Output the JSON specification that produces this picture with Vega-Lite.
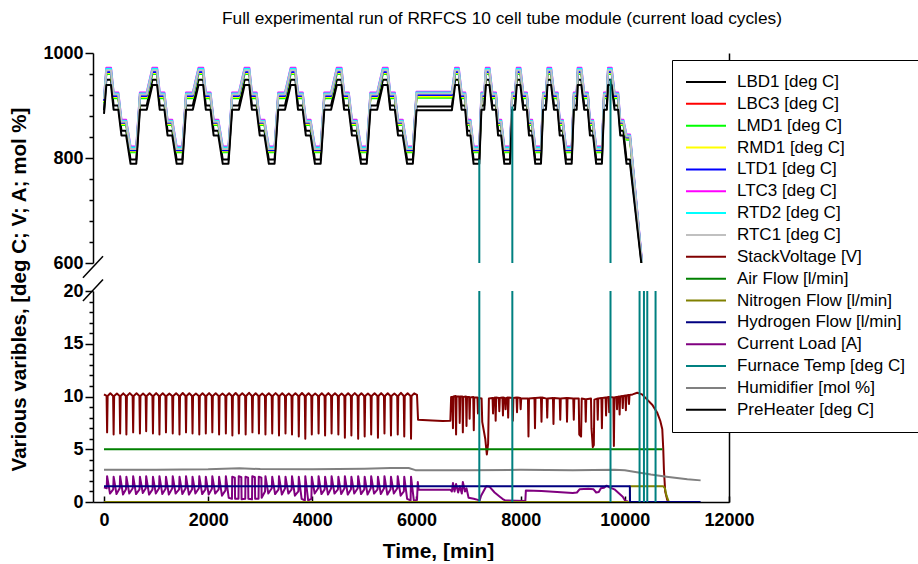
{
"$schema":"https://vega.github.io/schema/vega-lite/v6.json",
"padding":{"left":8,"top":10,"right":0,"bottom":0},
"bounds":"flush",
"spacing":28,
"title":{"text":"Full experimental run of RRFCS 10 cell tube module (current load cycles)","anchor":"start","frame":"group","dx":129,"offset":16.5,"fontSize":17.3,"fontWeight":"normal","font":"Liberation Sans","color":"black"},
"datasets":{
"names":[{"k":"LBD1","name":"LBD1 [deg C]"},{"k":"LBC3","name":"LBC3 [deg C]"},{"k":"LMD1","name":"LMD1 [deg C]"},{"k":"RMD1","name":"RMD1 [deg C]"},{"k":"LTD1","name":"LTD1 [deg C]"},{"k":"LTC3","name":"LTC3 [deg C]"},{"k":"RTD2","name":"RTD2 [deg C]"},{"k":"RTC1","name":"RTC1 [deg C]"},{"k":"SV","name":"StackVoltage [V]"},{"k":"AF","name":"Air Flow [l/min]"},{"k":"NF","name":"Nitrogen Flow [l/min]"},{"k":"HF","name":"Hydrogen Flow [l/min]"},{"k":"CL","name":"Current Load [A]"},{"k":"FT","name":"Furnace Temp [deg C]"},{"k":"HU","name":"Humidifier [mol %]"},{"k":"PH","name":"PreHeater [deg C]"}],
"d":[
{"t":0,"LBD1":891,"LBC3":908,"LMD1":905,"RMD1":907,"LTD1":909,"LTC3":916,"RTD2":914,"RTC1":912,"PH":884},
{"t":45,"LBD1":949,"LBC3":963,"LMD1":960,"RMD1":962,"LTD1":964,"LTC3":972,"RTD2":970,"RTC1":967,"PH":939},
{"t":135,"LBD1":949,"LBC3":963,"LMD1":960,"RMD1":962,"LTD1":964,"LTC3":972,"RTD2":970,"RTC1":967,"PH":939},
{"t":185,"LBD1":900,"LBC3":917,"LMD1":914,"RMD1":916,"LTD1":918,"LTC3":925,"RTD2":923,"RTC1":921,"PH":892},
{"t":275,"LBD1":900,"LBC3":917,"LMD1":914,"RMD1":916,"LTD1":918,"LTC3":925,"RTD2":923,"RTC1":921,"PH":892},
{"t":335,"LBD1":852,"LBC3":866,"LMD1":863,"RMD1":865,"LTD1":867,"LTC3":873,"RTD2":871,"RTC1":869,"PH":843},
{"t":425,"LBD1":852,"LBC3":866,"LMD1":863,"RMD1":865,"LTD1":867,"LTC3":873,"RTD2":871,"RTC1":869,"PH":843},
{"t":510,"LBD1":797,"LBC3":814,"LMD1":811,"RMD1":813,"LTD1":815,"LTC3":822,"RTD2":820,"RTC1":817,"PH":789},
{"t":620,"LBD1":797,"LBC3":814,"LMD1":811,"RMD1":813,"LTD1":815,"LTC3":822,"RTD2":820,"RTC1":817,"PH":789},
{"t":690,"LBD1":900,"LBC3":917,"LMD1":914,"RMD1":916,"LTD1":918,"LTC3":925,"RTD2":923,"RTC1":921,"PH":892},
{"t":820,"LBD1":900,"LBC3":917,"LMD1":914,"RMD1":916,"LTD1":918,"LTC3":925,"RTD2":923,"RTC1":921,"PH":892},
{"t":930,"LBD1":949,"LBC3":963,"LMD1":960,"RMD1":962,"LTD1":964,"LTC3":972,"RTD2":970,"RTC1":967,"PH":939},
{"t":1020,"LBD1":949,"LBC3":963,"LMD1":960,"RMD1":962,"LTD1":964,"LTC3":972,"RTD2":970,"RTC1":967,"PH":939},
{"t":1070,"LBD1":900,"LBC3":917,"LMD1":914,"RMD1":916,"LTD1":918,"LTC3":925,"RTD2":923,"RTC1":921,"PH":892},
{"t":1160,"LBD1":900,"LBC3":917,"LMD1":914,"RMD1":916,"LTD1":918,"LTC3":925,"RTD2":923,"RTC1":921,"PH":892},
{"t":1220,"LBD1":852,"LBC3":866,"LMD1":863,"RMD1":865,"LTD1":867,"LTC3":873,"RTD2":871,"RTC1":869,"PH":843},
{"t":1310,"LBD1":852,"LBC3":866,"LMD1":863,"RMD1":865,"LTD1":867,"LTC3":873,"RTD2":871,"RTC1":869,"PH":843},
{"t":1395,"LBD1":797,"LBC3":814,"LMD1":811,"RMD1":813,"LTD1":815,"LTC3":822,"RTD2":820,"RTC1":817,"PH":789},
{"t":1505,"LBD1":797,"LBC3":814,"LMD1":811,"RMD1":813,"LTD1":815,"LTC3":822,"RTD2":820,"RTC1":817,"PH":789},
{"t":1575,"LBD1":900,"LBC3":917,"LMD1":914,"RMD1":916,"LTD1":918,"LTC3":925,"RTD2":923,"RTC1":921,"PH":892},
{"t":1705,"LBD1":900,"LBC3":917,"LMD1":914,"RMD1":916,"LTD1":918,"LTC3":925,"RTD2":923,"RTC1":921,"PH":892},
{"t":1815,"LBD1":949,"LBC3":963,"LMD1":960,"RMD1":962,"LTD1":964,"LTC3":972,"RTD2":970,"RTC1":967,"PH":939},
{"t":1905,"LBD1":949,"LBC3":963,"LMD1":960,"RMD1":962,"LTD1":964,"LTC3":972,"RTD2":970,"RTC1":967,"PH":939},
{"t":1955,"LBD1":900,"LBC3":917,"LMD1":914,"RMD1":916,"LTD1":918,"LTC3":925,"RTD2":923,"RTC1":921,"PH":892},
{"t":2045,"LBD1":900,"LBC3":917,"LMD1":914,"RMD1":916,"LTD1":918,"LTC3":925,"RTD2":923,"RTC1":921,"PH":892},
{"t":2105,"LBD1":852,"LBC3":866,"LMD1":863,"RMD1":865,"LTD1":867,"LTC3":873,"RTD2":871,"RTC1":869,"PH":843},
{"t":2195,"LBD1":852,"LBC3":866,"LMD1":863,"RMD1":865,"LTD1":867,"LTC3":873,"RTD2":871,"RTC1":869,"PH":843},
{"t":2280,"LBD1":797,"LBC3":814,"LMD1":811,"RMD1":813,"LTD1":815,"LTC3":822,"RTD2":820,"RTC1":817,"PH":789},
{"t":2390,"LBD1":797,"LBC3":814,"LMD1":811,"RMD1":813,"LTD1":815,"LTC3":822,"RTD2":820,"RTC1":817,"PH":789},
{"t":2460,"LBD1":900,"LBC3":917,"LMD1":914,"RMD1":916,"LTD1":918,"LTC3":925,"RTD2":923,"RTC1":921,"PH":892},
{"t":2590,"LBD1":900,"LBC3":917,"LMD1":914,"RMD1":916,"LTD1":918,"LTC3":925,"RTD2":923,"RTC1":921,"PH":892},
{"t":2700,"LBD1":949,"LBC3":963,"LMD1":960,"RMD1":962,"LTD1":964,"LTC3":972,"RTD2":970,"RTC1":967,"PH":939},
{"t":2790,"LBD1":949,"LBC3":963,"LMD1":960,"RMD1":962,"LTD1":964,"LTC3":972,"RTD2":970,"RTC1":967,"PH":939},
{"t":2840,"LBD1":900,"LBC3":917,"LMD1":914,"RMD1":916,"LTD1":918,"LTC3":925,"RTD2":923,"RTC1":921,"PH":892},
{"t":2930,"LBD1":900,"LBC3":917,"LMD1":914,"RMD1":916,"LTD1":918,"LTC3":925,"RTD2":923,"RTC1":921,"PH":892},
{"t":2990,"LBD1":852,"LBC3":866,"LMD1":863,"RMD1":865,"LTD1":867,"LTC3":873,"RTD2":871,"RTC1":869,"PH":843},
{"t":3080,"LBD1":852,"LBC3":866,"LMD1":863,"RMD1":865,"LTD1":867,"LTC3":873,"RTD2":871,"RTC1":869,"PH":843},
{"t":3165,"LBD1":797,"LBC3":814,"LMD1":811,"RMD1":813,"LTD1":815,"LTC3":822,"RTD2":820,"RTC1":817,"PH":789},
{"t":3275,"LBD1":797,"LBC3":814,"LMD1":811,"RMD1":813,"LTD1":815,"LTC3":822,"RTD2":820,"RTC1":817,"PH":789},
{"t":3345,"LBD1":900,"LBC3":917,"LMD1":914,"RMD1":916,"LTD1":918,"LTC3":925,"RTD2":923,"RTC1":921,"PH":892},
{"t":3475,"LBD1":900,"LBC3":917,"LMD1":914,"RMD1":916,"LTD1":918,"LTC3":925,"RTD2":923,"RTC1":921,"PH":892},
{"t":3585,"LBD1":949,"LBC3":963,"LMD1":960,"RMD1":962,"LTD1":964,"LTC3":972,"RTD2":970,"RTC1":967,"PH":939},
{"t":3675,"LBD1":949,"LBC3":963,"LMD1":960,"RMD1":962,"LTD1":964,"LTC3":972,"RTD2":970,"RTC1":967,"PH":939},
{"t":3725,"LBD1":900,"LBC3":917,"LMD1":914,"RMD1":916,"LTD1":918,"LTC3":925,"RTD2":923,"RTC1":921,"PH":892},
{"t":3815,"LBD1":900,"LBC3":917,"LMD1":914,"RMD1":916,"LTD1":918,"LTC3":925,"RTD2":923,"RTC1":921,"PH":892},
{"t":3875,"LBD1":852,"LBC3":866,"LMD1":863,"RMD1":865,"LTD1":867,"LTC3":873,"RTD2":871,"RTC1":869,"PH":843},
{"t":3965,"LBD1":852,"LBC3":866,"LMD1":863,"RMD1":865,"LTD1":867,"LTC3":873,"RTD2":871,"RTC1":869,"PH":843},
{"t":4050,"LBD1":797,"LBC3":814,"LMD1":811,"RMD1":813,"LTD1":815,"LTC3":822,"RTD2":820,"RTC1":817,"PH":789},
{"t":4160,"LBD1":797,"LBC3":814,"LMD1":811,"RMD1":813,"LTD1":815,"LTC3":822,"RTD2":820,"RTC1":817,"PH":789},
{"t":4230,"LBD1":900,"LBC3":917,"LMD1":914,"RMD1":916,"LTD1":918,"LTC3":925,"RTD2":923,"RTC1":921,"PH":892},
{"t":4360,"LBD1":900,"LBC3":917,"LMD1":914,"RMD1":916,"LTD1":918,"LTC3":925,"RTD2":923,"RTC1":921,"PH":892},
{"t":4470,"LBD1":949,"LBC3":963,"LMD1":960,"RMD1":962,"LTD1":964,"LTC3":972,"RTD2":970,"RTC1":967,"PH":939},
{"t":4560,"LBD1":949,"LBC3":963,"LMD1":960,"RMD1":962,"LTD1":964,"LTC3":972,"RTD2":970,"RTC1":967,"PH":939},
{"t":4610,"LBD1":900,"LBC3":917,"LMD1":914,"RMD1":916,"LTD1":918,"LTC3":925,"RTD2":923,"RTC1":921,"PH":892},
{"t":4700,"LBD1":900,"LBC3":917,"LMD1":914,"RMD1":916,"LTD1":918,"LTC3":925,"RTD2":923,"RTC1":921,"PH":892},
{"t":4760,"LBD1":852,"LBC3":866,"LMD1":863,"RMD1":865,"LTD1":867,"LTC3":873,"RTD2":871,"RTC1":869,"PH":843},
{"t":4850,"LBD1":852,"LBC3":866,"LMD1":863,"RMD1":865,"LTD1":867,"LTC3":873,"RTD2":871,"RTC1":869,"PH":843},
{"t":4935,"LBD1":797,"LBC3":814,"LMD1":811,"RMD1":813,"LTD1":815,"LTC3":822,"RTD2":820,"RTC1":817,"PH":789},
{"t":5045,"LBD1":797,"LBC3":814,"LMD1":811,"RMD1":813,"LTD1":815,"LTC3":822,"RTD2":820,"RTC1":817,"PH":789},
{"t":5115,"LBD1":900,"LBC3":917,"LMD1":914,"RMD1":916,"LTD1":918,"LTC3":925,"RTD2":923,"RTC1":921,"PH":892},
{"t":5245,"LBD1":900,"LBC3":917,"LMD1":914,"RMD1":916,"LTD1":918,"LTC3":925,"RTD2":923,"RTC1":921,"PH":892},
{"t":5355,"LBD1":949,"LBC3":963,"LMD1":960,"RMD1":962,"LTD1":964,"LTC3":972,"RTD2":970,"RTC1":967,"PH":939},
{"t":5445,"LBD1":949,"LBC3":963,"LMD1":960,"RMD1":962,"LTD1":964,"LTC3":972,"RTD2":970,"RTC1":967,"PH":939},
{"t":5495,"LBD1":900,"LBC3":917,"LMD1":914,"RMD1":916,"LTD1":918,"LTC3":925,"RTD2":923,"RTC1":921,"PH":892},
{"t":5585,"LBD1":900,"LBC3":917,"LMD1":914,"RMD1":916,"LTD1":918,"LTC3":925,"RTD2":923,"RTC1":921,"PH":892},
{"t":5645,"LBD1":852,"LBC3":866,"LMD1":863,"RMD1":865,"LTD1":867,"LTC3":873,"RTD2":871,"RTC1":869,"PH":843},
{"t":5735,"LBD1":852,"LBC3":866,"LMD1":863,"RMD1":865,"LTD1":867,"LTC3":873,"RTD2":871,"RTC1":869,"PH":843},
{"t":5820,"LBD1":797,"LBC3":814,"LMD1":811,"RMD1":813,"LTD1":815,"LTC3":822,"RTD2":820,"RTC1":817,"PH":789},
{"t":5930,"LBD1":797,"LBC3":814,"LMD1":811,"RMD1":813,"LTD1":815,"LTC3":822,"RTD2":820,"RTC1":817,"PH":789},
{"t":6000,"LBD1":898,"LBC3":918,"LMD1":915,"RMD1":917,"LTD1":920,"LTC3":926,"RTD2":925,"RTC1":923,"PH":891},
{"t":6680,"LBD1":898,"LBC3":918,"LMD1":915,"RMD1":917,"LTD1":920,"LTC3":926,"RTD2":925,"RTC1":923,"PH":891},
{"t":6741,"LBD1":949,"LBC3":963,"LMD1":960,"RMD1":962,"LTD1":964,"LTC3":972,"RTD2":970,"RTC1":967,"PH":939},
{"t":6811,"LBD1":949,"LBC3":963,"LMD1":960,"RMD1":962,"LTD1":964,"LTC3":972,"RTD2":970,"RTC1":967,"PH":939},
{"t":6866,"LBD1":900,"LBC3":917,"LMD1":914,"RMD1":916,"LTD1":918,"LTC3":925,"RTD2":923,"RTC1":921,"PH":892},
{"t":6936,"LBD1":900,"LBC3":917,"LMD1":914,"RMD1":916,"LTD1":918,"LTC3":925,"RTD2":923,"RTC1":921,"PH":892},
{"t":6976,"LBD1":852,"LBC3":866,"LMD1":863,"RMD1":865,"LTD1":867,"LTC3":873,"RTD2":871,"RTC1":869,"PH":843},
{"t":7036,"LBD1":852,"LBC3":866,"LMD1":863,"RMD1":865,"LTD1":867,"LTC3":873,"RTD2":871,"RTC1":869,"PH":843},
{"t":7096,"LBD1":797,"LBC3":814,"LMD1":811,"RMD1":813,"LTD1":815,"LTC3":822,"RTD2":820,"RTC1":817,"PH":789},
{"t":7206,"LBD1":797,"LBC3":814,"LMD1":811,"RMD1":813,"LTD1":815,"LTC3":822,"RTD2":820,"RTC1":817,"PH":789},
{"t":7246,"LBD1":900,"LBC3":917,"LMD1":914,"RMD1":916,"LTD1":918,"LTC3":925,"RTD2":923,"RTC1":921,"PH":892},
{"t":7301,"LBD1":900,"LBC3":917,"LMD1":914,"RMD1":916,"LTD1":918,"LTC3":925,"RTD2":923,"RTC1":921,"PH":892},
{"t":7331,"LBD1":949,"LBC3":963,"LMD1":960,"RMD1":962,"LTD1":964,"LTC3":972,"RTD2":970,"RTC1":967,"PH":939},
{"t":7401,"LBD1":949,"LBC3":963,"LMD1":960,"RMD1":962,"LTD1":964,"LTC3":972,"RTD2":970,"RTC1":967,"PH":939},
{"t":7456,"LBD1":900,"LBC3":917,"LMD1":914,"RMD1":916,"LTD1":918,"LTC3":925,"RTD2":923,"RTC1":921,"PH":892},
{"t":7526,"LBD1":900,"LBC3":917,"LMD1":914,"RMD1":916,"LTD1":918,"LTC3":925,"RTD2":923,"RTC1":921,"PH":892},
{"t":7566,"LBD1":852,"LBC3":866,"LMD1":863,"RMD1":865,"LTD1":867,"LTC3":873,"RTD2":871,"RTC1":869,"PH":843},
{"t":7626,"LBD1":852,"LBC3":866,"LMD1":863,"RMD1":865,"LTD1":867,"LTC3":873,"RTD2":871,"RTC1":869,"PH":843},
{"t":7686,"LBD1":797,"LBC3":814,"LMD1":811,"RMD1":813,"LTD1":815,"LTC3":822,"RTD2":820,"RTC1":817,"PH":789},
{"t":7796,"LBD1":797,"LBC3":814,"LMD1":811,"RMD1":813,"LTD1":815,"LTC3":822,"RTD2":820,"RTC1":817,"PH":789},
{"t":7836,"LBD1":900,"LBC3":917,"LMD1":914,"RMD1":916,"LTD1":918,"LTC3":925,"RTD2":923,"RTC1":921,"PH":892},
{"t":7891,"LBD1":900,"LBC3":917,"LMD1":914,"RMD1":916,"LTD1":918,"LTC3":925,"RTD2":923,"RTC1":921,"PH":892},
{"t":7925,"LBD1":949,"LBC3":963,"LMD1":960,"RMD1":962,"LTD1":964,"LTC3":972,"RTD2":970,"RTC1":967,"PH":939},
{"t":7995,"LBD1":949,"LBC3":963,"LMD1":960,"RMD1":962,"LTD1":964,"LTC3":972,"RTD2":970,"RTC1":967,"PH":939},
{"t":8050,"LBD1":900,"LBC3":917,"LMD1":914,"RMD1":916,"LTD1":918,"LTC3":925,"RTD2":923,"RTC1":921,"PH":892},
{"t":8120,"LBD1":900,"LBC3":917,"LMD1":914,"RMD1":916,"LTD1":918,"LTC3":925,"RTD2":923,"RTC1":921,"PH":892},
{"t":8160,"LBD1":852,"LBC3":866,"LMD1":863,"RMD1":865,"LTD1":867,"LTC3":873,"RTD2":871,"RTC1":869,"PH":843},
{"t":8220,"LBD1":852,"LBC3":866,"LMD1":863,"RMD1":865,"LTD1":867,"LTC3":873,"RTD2":871,"RTC1":869,"PH":843},
{"t":8280,"LBD1":797,"LBC3":814,"LMD1":811,"RMD1":813,"LTD1":815,"LTC3":822,"RTD2":820,"RTC1":817,"PH":789},
{"t":8390,"LBD1":797,"LBC3":814,"LMD1":811,"RMD1":813,"LTD1":815,"LTC3":822,"RTD2":820,"RTC1":817,"PH":789},
{"t":8430,"LBD1":900,"LBC3":917,"LMD1":914,"RMD1":916,"LTD1":918,"LTC3":925,"RTD2":923,"RTC1":921,"PH":892},
{"t":8485,"LBD1":900,"LBC3":917,"LMD1":914,"RMD1":916,"LTD1":918,"LTC3":925,"RTD2":923,"RTC1":921,"PH":892},
{"t":8515,"LBD1":949,"LBC3":963,"LMD1":960,"RMD1":962,"LTD1":964,"LTC3":972,"RTD2":970,"RTC1":967,"PH":939},
{"t":8585,"LBD1":949,"LBC3":963,"LMD1":960,"RMD1":962,"LTD1":964,"LTC3":972,"RTD2":970,"RTC1":967,"PH":939},
{"t":8640,"LBD1":900,"LBC3":917,"LMD1":914,"RMD1":916,"LTD1":918,"LTC3":925,"RTD2":923,"RTC1":921,"PH":892},
{"t":8710,"LBD1":900,"LBC3":917,"LMD1":914,"RMD1":916,"LTD1":918,"LTC3":925,"RTD2":923,"RTC1":921,"PH":892},
{"t":8750,"LBD1":852,"LBC3":866,"LMD1":863,"RMD1":865,"LTD1":867,"LTC3":873,"RTD2":871,"RTC1":869,"PH":843},
{"t":8810,"LBD1":852,"LBC3":866,"LMD1":863,"RMD1":865,"LTD1":867,"LTC3":873,"RTD2":871,"RTC1":869,"PH":843},
{"t":8870,"LBD1":797,"LBC3":814,"LMD1":811,"RMD1":813,"LTD1":815,"LTC3":822,"RTD2":820,"RTC1":817,"PH":789},
{"t":8980,"LBD1":797,"LBC3":814,"LMD1":811,"RMD1":813,"LTD1":815,"LTC3":822,"RTD2":820,"RTC1":817,"PH":789},
{"t":9020,"LBD1":900,"LBC3":917,"LMD1":914,"RMD1":916,"LTD1":918,"LTC3":925,"RTD2":923,"RTC1":921,"PH":892},
{"t":9075,"LBD1":900,"LBC3":917,"LMD1":914,"RMD1":916,"LTD1":918,"LTC3":925,"RTD2":923,"RTC1":921,"PH":892},
{"t":9095,"LBD1":949,"LBC3":963,"LMD1":960,"RMD1":962,"LTD1":964,"LTC3":972,"RTD2":970,"RTC1":967,"PH":939},
{"t":9165,"LBD1":949,"LBC3":963,"LMD1":960,"RMD1":962,"LTD1":964,"LTC3":972,"RTD2":970,"RTC1":967,"PH":939},
{"t":9220,"LBD1":900,"LBC3":917,"LMD1":914,"RMD1":916,"LTD1":918,"LTC3":925,"RTD2":923,"RTC1":921,"PH":892},
{"t":9290,"LBD1":900,"LBC3":917,"LMD1":914,"RMD1":916,"LTD1":918,"LTC3":925,"RTD2":923,"RTC1":921,"PH":892},
{"t":9330,"LBD1":852,"LBC3":866,"LMD1":863,"RMD1":865,"LTD1":867,"LTC3":873,"RTD2":871,"RTC1":869,"PH":843},
{"t":9390,"LBD1":852,"LBC3":866,"LMD1":863,"RMD1":865,"LTD1":867,"LTC3":873,"RTD2":871,"RTC1":869,"PH":843},
{"t":9450,"LBD1":797,"LBC3":814,"LMD1":811,"RMD1":813,"LTD1":815,"LTC3":822,"RTD2":820,"RTC1":817,"PH":789},
{"t":9560,"LBD1":797,"LBC3":814,"LMD1":811,"RMD1":813,"LTD1":815,"LTC3":822,"RTD2":820,"RTC1":817,"PH":789},
{"t":9600,"LBD1":900,"LBC3":917,"LMD1":914,"RMD1":916,"LTD1":918,"LTC3":925,"RTD2":923,"RTC1":921,"PH":892},
{"t":9655,"LBD1":900,"LBC3":917,"LMD1":914,"RMD1":916,"LTD1":918,"LTC3":925,"RTD2":923,"RTC1":921,"PH":892},
{"t":9677,"LBD1":949,"LBC3":963,"LMD1":960,"RMD1":962,"LTD1":964,"LTC3":972,"RTD2":970,"RTC1":967,"PH":939},
{"t":9747,"LBD1":949,"LBC3":963,"LMD1":960,"RMD1":962,"LTD1":964,"LTC3":972,"RTD2":970,"RTC1":967,"PH":939},
{"t":9802,"LBD1":900,"LBC3":917,"LMD1":914,"RMD1":916,"LTD1":918,"LTC3":925,"RTD2":923,"RTC1":921,"PH":892},
{"t":9872,"LBD1":900,"LBC3":917,"LMD1":914,"RMD1":916,"LTD1":918,"LTC3":925,"RTD2":923,"RTC1":921,"PH":892},
{"t":9912,"LBD1":852,"LBC3":866,"LMD1":863,"RMD1":865,"LTD1":867,"LTC3":873,"RTD2":871,"RTC1":869,"PH":843},
{"t":9972,"LBD1":852,"LBC3":866,"LMD1":863,"RMD1":865,"LTD1":867,"LTC3":873,"RTD2":871,"RTC1":869,"PH":843},
{"t":10032,"LBD1":797,"LBC3":838,"LMD1":835,"RMD1":837,"LTD1":839,"LTC3":845,"RTD2":843,"RTC1":841,"PH":789},
{"t":10100,"LBD1":797,"LBC3":838,"LMD1":835,"RMD1":837,"LTD1":839,"LTC3":845,"RTD2":843,"RTC1":841,"PH":789},
{"t":10330,"LBD1":592,"LBC3":598,"LMD1":596,"RMD1":597,"LTD1":599,"LTC3":603,"RTD2":601,"RTC1":600,"PH":588},
{"t":0,"SV":10.2},
{"t":50,"SV":10.05},{"t":60,"SV":6.6},{"t":70,"SV":10.05},{"t":122,"SV":10.3},
{"t":175,"SV":10.05},{"t":185,"SV":6.4},{"t":195,"SV":10.05},{"t":248,"SV":10.28},
{"t":300,"SV":10.05},{"t":310,"SV":6.5},{"t":320,"SV":10.05},{"t":370,"SV":10.3},
{"t":420,"SV":10.05},{"t":430,"SV":6.4},{"t":440,"SV":10.05},{"t":495,"SV":10.32},
{"t":550,"SV":10.05},{"t":560,"SV":6.6},{"t":570,"SV":10.05},{"t":625,"SV":10.3},
{"t":680,"SV":10.05},{"t":690,"SV":6.5},{"t":700,"SV":10.05},{"t":750,"SV":10.28},
{"t":800,"SV":10.05},{"t":810,"SV":6.7},{"t":820,"SV":10.05},{"t":875,"SV":10.3},
{"t":930,"SV":10.05},{"t":940,"SV":6.5},{"t":950,"SV":10.05},{"t":1002,"SV":10.32},
{"t":1055,"SV":10.05},{"t":1065,"SV":6.4},{"t":1075,"SV":10.05},{"t":1128,"SV":10.3},
{"t":1180,"SV":10.05},{"t":1190,"SV":6.6},{"t":1200,"SV":10.05},{"t":1255,"SV":10.27},
{"t":1310,"SV":10.05},{"t":1320,"SV":6.5},{"t":1330,"SV":10.05},{"t":1385,"SV":10.3},
{"t":1440,"SV":10.05},{"t":1450,"SV":6.4},{"t":1460,"SV":10.05},{"t":1512,"SV":10.33},
{"t":1565,"SV":10.05},{"t":1575,"SV":6.6},{"t":1585,"SV":10.05},{"t":1638,"SV":10.3},
{"t":1690,"SV":10.05},{"t":1700,"SV":6.5},{"t":1710,"SV":10.05},{"t":1765,"SV":10.28},
{"t":1820,"SV":10.05},{"t":1830,"SV":6.4},{"t":1840,"SV":10.05},{"t":1892,"SV":10.3},
{"t":1945,"SV":10.05},{"t":1955,"SV":6.5},{"t":1965,"SV":10.05},{"t":2018,"SV":10.32},
{"t":2070,"SV":10.05},{"t":2080,"SV":6.6},{"t":2090,"SV":10.05},{"t":2145,"SV":10.3},
{"t":2200,"SV":10.05},{"t":2210,"SV":6.4},{"t":2220,"SV":10.05},{"t":2275,"SV":10.28},
{"t":2330,"SV":10.05},{"t":2340,"SV":6.5},{"t":2350,"SV":10.05},{"t":2402,"SV":10.3},
{"t":2455,"SV":10.05},{"t":2465,"SV":6.3},{"t":2475,"SV":10.05},{"t":2528,"SV":10.33},
{"t":2580,"SV":10.05},{"t":2590,"SV":6.5},{"t":2600,"SV":10.05},{"t":2655,"SV":10.3},
{"t":2710,"SV":10.05},{"t":2720,"SV":6.4},{"t":2730,"SV":10.05},{"t":2785,"SV":10.35},
{"t":2840,"SV":10.05},{"t":2850,"SV":6.6},{"t":2860,"SV":10.05},{"t":2912,"SV":10.3},
{"t":2965,"SV":10.05},{"t":2975,"SV":6.5},{"t":2985,"SV":10.05},{"t":3038,"SV":10.28},
{"t":3090,"SV":10.05},{"t":3100,"SV":6.4},{"t":3110,"SV":10.05},{"t":3165,"SV":10.3},
{"t":3220,"SV":10.05},{"t":3230,"SV":6.5},{"t":3240,"SV":10.05},{"t":3295,"SV":10.32},
{"t":3350,"SV":10.05},{"t":3360,"SV":6.3},{"t":3370,"SV":10.05},{"t":3422,"SV":10.3},
{"t":3475,"SV":10.05},{"t":3485,"SV":6.5},{"t":3495,"SV":10.05},{"t":3548,"SV":10.28},
{"t":3600,"SV":10.05},{"t":3610,"SV":6.4},{"t":3620,"SV":10.05},{"t":3675,"SV":10.3},
{"t":3730,"SV":10.05},{"t":3740,"SV":6.2},{"t":3750,"SV":10.05},{"t":3802,"SV":10.33},
{"t":3855,"SV":10.05},{"t":3865,"SV":6.0},{"t":3875,"SV":10.05},{"t":3928,"SV":10.3},
{"t":3980,"SV":10.05},{"t":3990,"SV":6.4},{"t":4000,"SV":10.05},{"t":4055,"SV":10.28},
{"t":4110,"SV":10.05},{"t":4120,"SV":6.5},{"t":4130,"SV":10.05},{"t":4182,"SV":10.3},
{"t":4235,"SV":10.05},{"t":4245,"SV":6.3},{"t":4255,"SV":10.05},{"t":4308,"SV":10.32},
{"t":4360,"SV":10.05},{"t":4370,"SV":6.5},{"t":4380,"SV":10.05},{"t":4435,"SV":10.3},
{"t":4490,"SV":10.05},{"t":4500,"SV":6.4},{"t":4510,"SV":10.05},{"t":4562,"SV":10.28},
{"t":4615,"SV":10.05},{"t":4625,"SV":6.1},{"t":4635,"SV":10.05},{"t":4688,"SV":10.3},
{"t":4740,"SV":10.05},{"t":4750,"SV":6.3},{"t":4760,"SV":10.05},{"t":4815,"SV":10.32},
{"t":4870,"SV":10.05},{"t":4880,"SV":6.0},{"t":4890,"SV":10.05},{"t":4942,"SV":10.3},
{"t":4995,"SV":10.05},{"t":5005,"SV":6.2},{"t":5015,"SV":10.05},{"t":5068,"SV":10.28},
{"t":5120,"SV":10.05},{"t":5130,"SV":6.4},{"t":5140,"SV":10.05},{"t":5195,"SV":10.3},
{"t":5250,"SV":10.05},{"t":5260,"SV":6.1},{"t":5270,"SV":10.05},{"t":5322,"SV":10.32},
{"t":5375,"SV":10.05},{"t":5385,"SV":6.5},{"t":5395,"SV":10.05},{"t":5448,"SV":10.3},
{"t":5500,"SV":10.05},{"t":5510,"SV":6.3},{"t":5520,"SV":10.05},{"t":5575,"SV":10.28},
{"t":5630,"SV":10.05},{"t":5640,"SV":6.4},{"t":5650,"SV":10.05},{"t":5702,"SV":10.35},
{"t":5755,"SV":10.05},{"t":5765,"SV":6.2},{"t":5775,"SV":10.05},{"t":5830,"SV":10.3},
{"t":5885,"SV":10.05},{"t":5895,"SV":6.0},{"t":5905,"SV":10.05},{"t":5955,"SV":10.3},
{"t":6010,"SV":10.15},{"t":6030,"SV":7.8},{"t":6300,"SV":7.72},{"t":6500,"SV":7.68},{"t":6650,"SV":7.7},{"t":6665,"SV":9.95},
{"t":6690,"SV":9.95},{"t":6700,"SV":7.0},{"t":6710,"SV":10.0},{"t":6750,"SV":10.05},{"t":6760,"SV":6.4},{"t":6770,"SV":10.0},
{"t":6820,"SV":10.0},{"t":6830,"SV":7.5},{"t":6840,"SV":10.0},{"t":6880,"SV":10.0},{"t":6890,"SV":6.6},{"t":6900,"SV":9.95},
{"t":6950,"SV":10.0},{"t":6960,"SV":7.2},{"t":6970,"SV":9.95},{"t":7010,"SV":9.95},{"t":7020,"SV":7.9},{"t":7030,"SV":9.9},
{"t":7090,"SV":9.95},{"t":7100,"SV":6.8},{"t":7110,"SV":9.9},{"t":7170,"SV":9.9},{"t":7180,"SV":8.4},{"t":7190,"SV":9.85},
{"t":7250,"SV":9.8},{"t":7262,"SV":7.6},{"t":7320,"SV":6.0},{"t":7350,"SV":4.5},{"t":7375,"SV":5.5},{"t":7390,"SV":9.8},
{"t":7460,"SV":9.85},{"t":7470,"SV":8.4},{"t":7480,"SV":9.85},{"t":7510,"SV":9.9},{"t":7520,"SV":7.7},{"t":7530,"SV":9.9},
{"t":7580,"SV":9.85},{"t":7590,"SV":8.6},{"t":7600,"SV":9.85},{"t":7650,"SV":9.9},{"t":7660,"SV":8.2},{"t":7670,"SV":9.9},
{"t":7700,"SV":9.85},{"t":7710,"SV":8.8},{"t":7720,"SV":9.85},{"t":7750,"SV":9.9},{"t":7760,"SV":8.0},{"t":7770,"SV":9.9},
{"t":7840,"SV":9.85},{"t":7850,"SV":7.7},{"t":7860,"SV":9.85},{"t":7920,"SV":9.9},{"t":7930,"SV":8.5},{"t":7940,"SV":9.9},
{"t":7990,"SV":9.85},{"t":8000,"SV":8.8},{"t":8010,"SV":9.8},{"t":8140,"SV":9.8},{"t":8150,"SV":6.2},{"t":8160,"SV":9.8},
{"t":8265,"SV":9.85},{"t":8275,"SV":7.0},{"t":8285,"SV":9.85},{"t":8390,"SV":9.9},{"t":8400,"SV":7.6},{"t":8410,"SV":9.9},
{"t":8500,"SV":9.8},{"t":8510,"SV":8.0},{"t":8520,"SV":9.8},{"t":8620,"SV":9.85},{"t":8630,"SV":7.4},{"t":8640,"SV":9.85},
{"t":8750,"SV":9.8},{"t":8760,"SV":7.8},{"t":8770,"SV":9.8},{"t":8880,"SV":9.85},{"t":8890,"SV":7.6},{"t":8900,"SV":9.85},
{"t":9010,"SV":9.8},{"t":9020,"SV":7.8},{"t":9030,"SV":9.8},{"t":9115,"SV":9.8},{"t":9125,"SV":6.4},{"t":9160,"SV":6.2},{"t":9172,"SV":9.8},
{"t":9240,"SV":9.75},{"t":9250,"SV":7.6},{"t":9260,"SV":9.75},{"t":9350,"SV":9.8},{"t":9360,"SV":7.0},{"t":9385,"SV":5.2},{"t":9405,"SV":5.4},{"t":9415,"SV":9.7},
{"t":9470,"SV":9.8},{"t":9480,"SV":7.8},{"t":9490,"SV":9.8},{"t":9550,"SV":9.85},{"t":9560,"SV":7.0},{"t":9570,"SV":9.85},
{"t":9630,"SV":9.9},{"t":9640,"SV":8.2},{"t":9650,"SV":9.9},{"t":9690,"SV":9.95},{"t":9700,"SV":8.5},{"t":9710,"SV":9.95},
{"t":9780,"SV":9.9},{"t":9790,"SV":5.3},{"t":9800,"SV":9.9},{"t":9840,"SV":9.95},{"t":9850,"SV":8.8},{"t":9860,"SV":9.95},
{"t":9890,"SV":10.0},{"t":9900,"SV":8.3},{"t":9910,"SV":10.0},{"t":9950,"SV":10.05},{"t":9960,"SV":8.9},{"t":9970,"SV":10.05},
{"t":10010,"SV":10.1},{"t":10020,"SV":8.7},{"t":10030,"SV":10.1},{"t":10070,"SV":10.15},{"t":10080,"SV":9.3},{"t":10090,"SV":10.15},
{"t":10150,"SV":10.2},{"t":10238,"SV":10.35},{"t":10330,"SV":10.2},{"t":10430,"SV":9.7},{"t":10530,"SV":9.2},{"t":10623,"SV":8.45},
{"t":10680,"SV":7.7},{"t":10719,"SV":6.9},{"t":10738,"SV":5.0},{"t":10750,"SV":3.1},{"t":10775,"SV":1.0},{"t":10815,"SV":0.2},{"t":10840,"SV":0},
{"t":0,"CL":1.4},
{"t":52,"CL":1.3},{"t":60,"CL":2.45},{"t":115,"CL":0.8},
{"t":177,"CL":1.2},{"t":185,"CL":2.4},{"t":240,"CL":0.75},
{"t":302,"CL":1.3},{"t":310,"CL":2.45},{"t":365,"CL":0.7},
{"t":422,"CL":1.2},{"t":430,"CL":2.4},{"t":485,"CL":0.8},
{"t":552,"CL":1.3},{"t":560,"CL":2.45},{"t":615,"CL":0.75},
{"t":682,"CL":1.2},{"t":690,"CL":2.4},{"t":745,"CL":0.85},
{"t":802,"CL":1.3},{"t":810,"CL":2.45},{"t":865,"CL":0.7},
{"t":932,"CL":1.2},{"t":940,"CL":2.4},{"t":995,"CL":0.8},
{"t":1057,"CL":1.3},{"t":1065,"CL":2.45},{"t":1120,"CL":0.75},
{"t":1182,"CL":1.25},{"t":1190,"CL":2.4},{"t":1245,"CL":0.7},
{"t":1312,"CL":1.3},{"t":1320,"CL":2.45},{"t":1375,"CL":0.8},
{"t":1442,"CL":1.2},{"t":1450,"CL":2.4},{"t":1505,"CL":0.75},
{"t":1567,"CL":1.3},{"t":1575,"CL":2.45},{"t":1630,"CL":0.7},
{"t":1692,"CL":1.2},{"t":1700,"CL":2.4},{"t":1755,"CL":0.8},
{"t":1822,"CL":1.3},{"t":1830,"CL":2.45},{"t":1885,"CL":0.75},
{"t":1947,"CL":1.2},{"t":1955,"CL":2.4},{"t":2010,"CL":0.7},
{"t":2072,"CL":1.25},{"t":2080,"CL":2.45},{"t":2135,"CL":0.8},
{"t":2202,"CL":1.2},{"t":2210,"CL":2.4},{"t":2265,"CL":0.6},
{"t":2332,"CL":1.1},{"t":2340,"CL":2.45},{"t":2395,"CL":0.4},
{"t":2457,"CL":0.3},{"t":2462,"CL":2.4},{"t":2512,"CL":2.3},{"t":2517,"CL":0.3},
{"t":2582,"CL":0.3},{"t":2587,"CL":2.45},{"t":2637,"CL":2.35},{"t":2642,"CL":0.25},
{"t":2712,"CL":0.3},{"t":2717,"CL":2.4},{"t":2767,"CL":2.3},{"t":2772,"CL":0.3},
{"t":2842,"CL":0.25},{"t":2847,"CL":2.45},{"t":2897,"CL":2.35},{"t":2902,"CL":0.3},
{"t":2967,"CL":0.3},{"t":2972,"CL":2.4},{"t":3022,"CL":2.3},{"t":3027,"CL":0.4},
{"t":3092,"CL":1.0},{"t":3100,"CL":2.45},{"t":3155,"CL":0.8},
{"t":3222,"CL":1.3},{"t":3230,"CL":2.4},{"t":3285,"CL":0.75},
{"t":3352,"CL":1.2},{"t":3360,"CL":2.45},{"t":3415,"CL":0.7},
{"t":3477,"CL":1.3},{"t":3485,"CL":2.4},{"t":3540,"CL":0.8},
{"t":3602,"CL":1.2},{"t":3610,"CL":2.45},{"t":3665,"CL":0.6},
{"t":3732,"CL":1.0},{"t":3740,"CL":2.4},{"t":3795,"CL":0.3},
{"t":3857,"CL":0.15},{"t":3865,"CL":2.45},{"t":3920,"CL":0.15},
{"t":3982,"CL":0.3},{"t":3990,"CL":2.4},{"t":4045,"CL":0.8},
{"t":4112,"CL":1.3},{"t":4120,"CL":2.45},{"t":4175,"CL":0.75},
{"t":4237,"CL":1.2},{"t":4245,"CL":2.4},{"t":4300,"CL":0.7},
{"t":4362,"CL":1.3},{"t":4370,"CL":2.45},{"t":4425,"CL":0.8},
{"t":4492,"CL":1.2},{"t":4500,"CL":2.4},{"t":4555,"CL":0.75},
{"t":4617,"CL":1.3},{"t":4625,"CL":2.45},{"t":4680,"CL":0.7},
{"t":4742,"CL":1.2},{"t":4750,"CL":2.4},{"t":4805,"CL":0.8},
{"t":4872,"CL":1.3},{"t":4880,"CL":2.45},{"t":4935,"CL":0.75},
{"t":4997,"CL":1.2},{"t":5005,"CL":2.4},{"t":5060,"CL":0.7},
{"t":5122,"CL":1.3},{"t":5130,"CL":2.45},{"t":5185,"CL":0.8},
{"t":5252,"CL":1.2},{"t":5260,"CL":2.4},{"t":5315,"CL":0.75},
{"t":5377,"CL":1.3},{"t":5385,"CL":2.45},{"t":5440,"CL":0.7},
{"t":5502,"CL":1.2},{"t":5510,"CL":2.4},{"t":5565,"CL":0.8},
{"t":5632,"CL":1.3},{"t":5640,"CL":2.45},{"t":5695,"CL":0.6},
{"t":5757,"CL":1.0},{"t":5765,"CL":2.4},{"t":5820,"CL":0.3},
{"t":5887,"CL":0.15},{"t":5895,"CL":2.4},{"t":5950,"CL":0.1},
{"t":6010,"CL":0.2},{"t":6025,"CL":1.9},{"t":6040,"CL":1.15},{"t":6650,"CL":1.15},
{"t":6680,"CL":1.0},{"t":6700,"CL":1.8},{"t":6730,"CL":1.0},{"t":6760,"CL":1.7},{"t":6800,"CL":0.9},{"t":6830,"CL":1.5},
{"t":6870,"CL":0.8},{"t":6890,"CL":1.9},{"t":6930,"CL":1.0},{"t":6960,"CL":1.3},{"t":7000,"CL":0.4},{"t":7100,"CL":0.3},
{"t":7180,"CL":0.2},{"t":7210,"CL":0.1},{"t":7240,"CL":0.6},{"t":7340,"CL":1.5},{"t":7400,"CL":1.45},{"t":7500,"CL":0.9},
{"t":7600,"CL":0.5},{"t":7650,"CL":0.3},{"t":7700,"CL":0.15},{"t":8090,"CL":0.1},{"t":8100,"CL":1.1},{"t":8400,"CL":1.05},
{"t":8700,"CL":0.95},{"t":9000,"CL":0.85},{"t":9080,"CL":0.9},{"t":9130,"CL":1.2},{"t":9300,"CL":1.25},{"t":9400,"CL":1.2},
{"t":9450,"CL":0.9},{"t":9500,"CL":0.95},{"t":9540,"CL":1.3},{"t":9600,"CL":1.35},{"t":9650,"CL":1.55},{"t":9700,"CL":1.4},
{"t":9800,"CL":1.2},{"t":9880,"CL":0.85},{"t":9960,"CL":0.5},{"t":10010,"CL":0.1},{"t":10060,"CL":0.05},
{"t":0,"HU":3.05},{"t":1000,"HU":3.05},{"t":2000,"HU":3.1},{"t":2600,"HU":3.2},{"t":3000,"HU":3.12},{"t":4000,"HU":3.1},
{"t":5000,"HU":3.15},{"t":5500,"HU":3.22},{"t":5850,"HU":3.22},{"t":5980,"HU":3.02},{"t":7000,"HU":3.0},{"t":8000,"HU":3.05},
{"t":9000,"HU":3.0},{"t":9800,"HU":3.05},{"t":10000,"HU":3.0},{"t":10200,"HU":2.85},{"t":10500,"HU":2.6},{"t":10800,"HU":2.4},
{"t":11000,"HU":2.28},{"t":11200,"HU":2.15},{"t":11455,"HU":2.05},
{"t":0,"AF":5.0},{"t":10720,"AF":5.0},
{"t":0,"NF":0},{"t":10096,"NF":0},{"t":10100,"NF":1.5},{"t":10735,"NF":1.5},{"t":10770,"NF":1.3},{"t":10800,"NF":0.6},{"t":10846,"NF":0},
{"t":0,"HF":1.5},{"t":10096,"HF":1.5},{"t":10100,"HF":0},{"t":11455,"HF":0},
{"t":7206,"FT":797,"g":1},{"t":7206,"FT":0,"g":1},
{"t":7840,"FT":898,"g":2},{"t":7840,"FT":0,"g":2},
{"t":9725,"FT":950,"g":3},{"t":9725,"FT":0,"g":3},
{"t":10283,"FT":400,"g":4},{"t":10283,"FT":0,"g":4},
{"t":10367,"FT":400,"g":5},{"t":10367,"FT":0,"g":5},
{"t":10431,"FT":400,"g":6},{"t":10431,"FT":0,"g":6},
{"t":10590,"FT":400,"g":7},{"t":10590,"FT":0,"g":7}
]},
"data":{"name":"d"},
"transform":[
{"fold":["LBD1","LBC3","LMD1","RMD1","LTD1","LTC3","RTD2","RTC1","PH","SV","CL","HU","AF","NF","HF","FT"],"as":["k","v"]},
{"filter":"isValid(datum.v)"},
{"lookup":"k","from":{"data":{"name":"names"},"key":"k","fields":["name"]}}
],
"vconcat":[
{"width":636,"height":210,
 "layer":[
  {"mark":{"type":"line","strokeWidth":2,"clip":true,"strokeJoin":"round"},
   "encoding":{
    "x":{"field":"t","type":"quantitative","scale":{"domain":[-211,12000],"nice":false,"zero":false},"axis":{"orient":"top","labels":false,"ticks":false,"title":null,"domain":true}},
    "y":{"field":"v","type":"quantitative","scale":{"domain":[600,1000],"nice":false,"zero":false},
         "axis":{"orient":"left","format":"d","values":[600,640,680,720,760,800,840,880,920,960,1000],"labelExpr":"datum.value % 200 === 0 ? datum.label : ''","tickSize":{"condition":{"test":"datum.value % 200 === 0","value":8},"value":4},"labelPadding":2,"title":"Various varibles, [deg C; V; A; mol %]","titleFontSize":20.5,"titleX":-64,"titleY":236}},
    "color":{"field":"name","type":"nominal","scale":{"domain":["LBD1 [deg C]","LBC3 [deg C]","LMD1 [deg C]","RMD1 [deg C]","LTD1 [deg C]","LTC3 [deg C]","RTD2 [deg C]","RTC1 [deg C]","StackVoltage [V]","Air Flow [l/min]","Nitrogen Flow [l/min]","Hydrogen Flow [l/min]","Current Load [A]","Furnace Temp [deg C]","Humidifier [mol %]","PreHeater [deg C]"],"range":["#000000","#ff0000","#00ff00","#ffff00","#0000ff","#ff00ff","#00ffff","#c0c0c0","#800000","#008000","#808000","#000080","#800080","#008080","#808080","#000000"]}},
    "detail":{"field":"g","type":"nominal"}
   }},
  {"data":{"values":[{}]},"mark":{"type":"rule","opacity":0},
   "encoding":{"y":{"datum":800,"type":"quantitative","scale":{"domain":[600,1000],"nice":false,"zero":false},"axis":{"orient":"right","labels":false,"ticks":false,"title":null,"domain":true}}}},
  {"data":{"values":[{}]},"mark":{"type":"rule","clip":false,"color":"black","strokeWidth":1.5},
   "encoding":{"x":{"datum":-404,"type":"quantitative","scale":{"domain":[-211,12000],"nice":false,"zero":false},"axis":null},"x2":{"datum":-19},
               "y":{"datum":572,"type":"quantitative","scale":{"domain":[600,1000],"nice":false,"zero":false},"axis":null},"y2":{"datum":613}}}
 ],
 "resolve":{"axis":{"y":"independent"}}
},
{"width":636,"height":211,
 "layer":[
  {"mark":{"type":"line","strokeWidth":2,"clip":true,"strokeJoin":"round"},
   "encoding":{
    "x":{"field":"t","type":"quantitative","scale":{"domain":[-211,12000],"nice":false,"zero":false},"axis":{"orient":"bottom","format":"d","values":[0,2000,4000,6000,8000,10000,12000],"labelFlush":false,"ticks":false,"labelPadding":9,"title":"Time, [min]","titleFontSize":21,"titleX":345,"titleY":55,"titleBaseline":"alphabetic"}},
    "y":{"field":"v","type":"quantitative","scale":{"domain":[0,20],"nice":false,"zero":false},
         "axis":{"orient":"left","format":"d","values":[0,1,2,3,4,5,6,7,8,9,10,11,12,13,14,15,16,17,18,19,20],"labelExpr":"datum.value % 5 === 0 ? datum.label : ''","tickSize":{"condition":{"test":"datum.value % 5 === 0","value":8},"value":4},"labelPadding":2,"title":null}},
    "color":{"field":"name","type":"nominal","scale":{"domain":["LBD1 [deg C]","LBC3 [deg C]","LMD1 [deg C]","RMD1 [deg C]","LTD1 [deg C]","LTC3 [deg C]","RTD2 [deg C]","RTC1 [deg C]","StackVoltage [V]","Air Flow [l/min]","Nitrogen Flow [l/min]","Hydrogen Flow [l/min]","Current Load [A]","Furnace Temp [deg C]","Humidifier [mol %]","PreHeater [deg C]"],"range":["#000000","#ff0000","#00ff00","#ffff00","#0000ff","#ff00ff","#00ffff","#c0c0c0","#800000","#008000","#808000","#000080","#800080","#008080","#808080","#000000"]}},
    "detail":{"field":"g","type":"nominal"}
   }},
  {"data":{"values":[{}]},"mark":{"type":"rule","opacity":0},
   "encoding":{"y":{"datum":10,"type":"quantitative","scale":{"domain":[0,20],"nice":false,"zero":false},"axis":{"orient":"right","labels":false,"ticks":false,"title":null,"domain":true}}}},
  {"data":{"values":[{}]},"mark":{"type":"rule","opacity":0},
   "encoding":{"x":{"datum":6000,"type":"quantitative","scale":{"domain":[-211,12000],"nice":false,"zero":false},"axis":{"orient":"top","offset":-211,"values":[0,2000,4000,6000,8000,10000,12000],"labels":false,"domain":false,"ticks":true,"tickSize":6,"title":null}}}},
  {"data":{"values":[{}]},"mark":{"type":"rule","clip":false,"color":"black","strokeWidth":1.5},
   "encoding":{"x":{"datum":-404,"type":"quantitative","scale":{"domain":[-211,12000],"nice":false,"zero":false},"axis":null},"x2":{"datum":-19},
               "y":{"datum":19.05,"type":"quantitative","scale":{"domain":[0,20],"nice":false,"zero":false},"axis":null},"y2":{"datum":21.1}}}
 ],
 "resolve":{"axis":{"y":"independent","x":"independent"}}
}
],
"resolve":{"scale":{"color":"shared"},"legend":{"color":"shared"}},
"config":{
 "font":"Liberation Sans",
 "view":{"stroke":null},
 "axis":{"grid":false,"domainColor":"black","domainWidth":1.5,"tickColor":"black","tickWidth":1.5,"labelFont":"Liberation Sans","labelFontSize":18,"labelFontWeight":"bold","labelColor":"black","titleFont":"Liberation Sans","titleFontSize":20,"titleFontWeight":"bold","titleColor":"black"},
 "legend":{"orient":"none","legendX":579,"legendY":7,"title":null,"strokeColor":"black","fillColor":"white","padding":13,"symbolType":"stroke","symbolSize":1600,"symbolStrokeWidth":2,"clipHeight":18,"rowPadding":3.85,"labelFont":"Liberation Sans","labelFontSize":17,"labelColor":"black","labelOffset":10,"labelLimit":300}
}
}
